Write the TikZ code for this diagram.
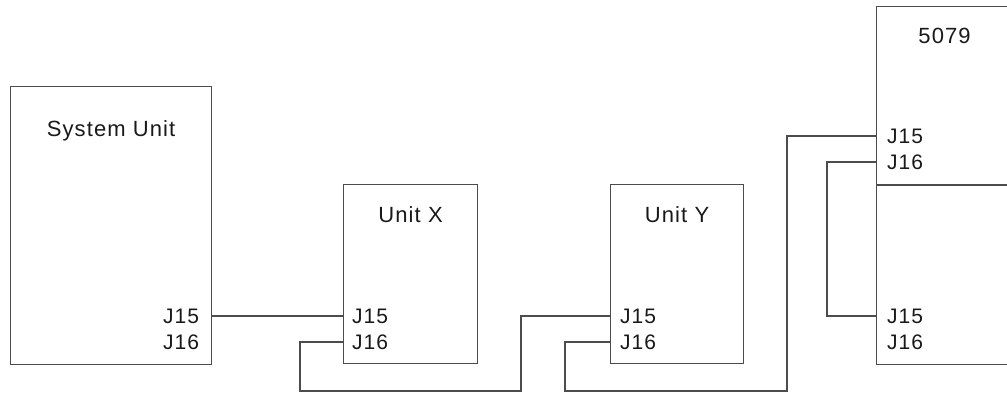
\documentclass[tikz,border=0pt]{standalone}
\usepackage{fontspec}
\setmainfont{Liberation Sans}[LetterSpace=5]
\usetikzlibrary{positioning}
\tikzset{
  unit/.style={draw=black!70, line width=1.2pt, anchor=north west, inner sep=0pt},
  wire/.style={draw=black!70, line width=1.2pt},
  title/.style={font=\fontsize{22}{26}\selectfont, text=black!90, anchor=base, inner sep=0pt},
  port/.style={font=\fontsize{21}{25}\selectfont, text=black!90, inner sep=0pt},
}
\begin{document}
\begin{tikzpicture}[x=1pt,y=-1pt]
  \useasboundingbox (0,0) rectangle (1007,394);
  \clip (0,0) rectangle (1007,394);
  % units
  \node[unit, minimum width=201pt, minimum height=278pt] (sys) at (10,86) {};
  \node[unit, minimum width=134pt, minimum height=179pt] (ux) at (343,184) {};
  \node[unit, minimum width=133pt, minimum height=179pt] (uy) at (610,184) {};
  \node[unit, minimum width=136pt, minimum height=178pt] (m5079) at (876,6) {};
  \node[unit, minimum width=136pt, minimum height=179pt] (m5079b) at (m5079.south west) {};
  \node[title] (systitle) at ([yshift=-50pt]sys.north) {System Unit};
  \node[title] (uxtitle) at ([yshift=-38pt]ux.north) {Unit X};
  \node[title] (uytitle) at ([yshift=-38pt]uy.north) {Unit Y};
  \node[title] (mtitle) at ([yshift=-37pt]m5079.north) {5079};
  % ports
  \coordinate (sys15) at (sys.east |- 0,316);
  \coordinate (sys16) at (sys.east |- 0,342);
  \coordinate (ux15) at (ux.west |- 0,316);
  \coordinate (ux16) at (ux.west |- 0,342);
  \coordinate (uy15) at (uy.west |- 0,316);
  \coordinate (uy16) at (uy.west |- 0,342);
  \coordinate (m15) at (m5079.west |- 0,136);
  \coordinate (m16) at (m5079.west |- 0,162);
  \coordinate (mb15) at (m5079b.west |- 0,316);
  \coordinate (mb16) at (m5079b.west |- 0,342);
  \node[port, left=13pt of sys15] (sysj15) {J15};
  \node[port, left=13pt of sys16] (sysj16) {J16};
  \node[port, right=9pt of ux15] (uxj15) {J15};
  \node[port, right=9pt of ux16] (uxj16) {J16};
  \node[port, right=10pt of uy15] (uyj15) {J15};
  \node[port, right=10pt of uy16] (uyj16) {J16};
  \node[port, right=11pt of m15] (mj15) {J15};
  \node[port, right=11pt of m16] (mj16) {J16};
  \node[port, right=11pt of mb15] (mbj15) {J15};
  \node[port, right=11pt of mb16] (mbj16) {J16};
  % cables
  \draw[wire] (sys15) -- (ux15);
  \draw[wire] (ux16) -- ++(-43,0) -- ++(0,49) -| ([xshift=-89pt]uy15) -- (uy15);
  \draw[wire] (uy16) -- ++(-45,0) -- ++(0,49) -| ([xshift=-89pt]m15) -- (m15);
  \draw[wire] (m16) -- ++(-49,0) |- (mb15);
\end{tikzpicture}
\end{document}
